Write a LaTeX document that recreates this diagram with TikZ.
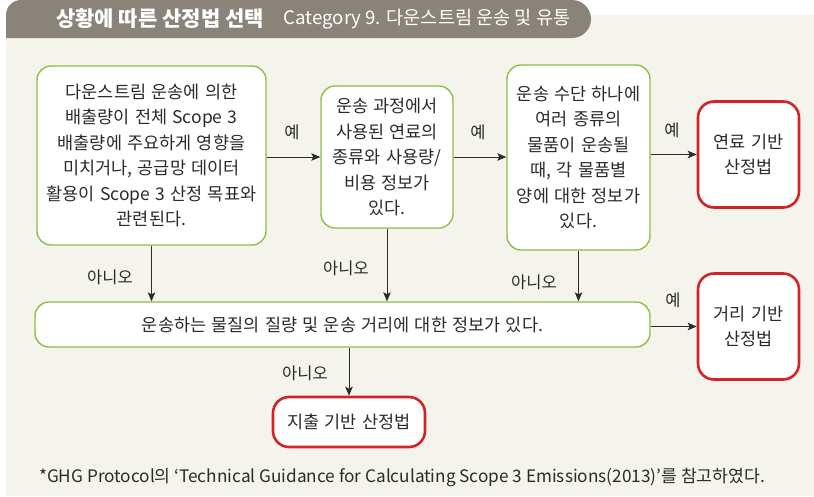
\documentclass[tikz,border=0pt]{standalone}
\usepackage{fontspec}
\setmainfont{Noto Sans CJK KR}
\usetikzlibrary{arrows.meta}
\definecolor{tabgray}{HTML}{8A8379}
\definecolor{panel}{HTML}{F4F3EC}
\definecolor{qgreen}{HTML}{8DBE45}
\definecolor{resred}{HTML}{D2232A}
\definecolor{ink}{HTML}{2B2B2B}
\newcommand{\boxfont}{\fontsize{17.5}{25.5}\selectfont\spaceskip=0.3em\relax}
\tikzset{
  question/.style={draw=qgreen, line width=1.4pt, fill=white, rounded corners=14pt,
    inner sep=0pt, align=center, text=ink, font=\boxfont},
  result/.style={draw=resred, line width=2.6pt, fill=white, rounded corners=16pt,
    inner sep=0pt, align=center, text=ink, font=\boxfont},
  flow/.style={draw=ink, line width=0.9pt, -{Stealth[length=9pt,width=7.5pt,inset=2pt]}},
  answer/.style={text=ink, font=\fontsize{16.5}{19}\selectfont, inner sep=0pt},
}
\begin{document}
\begin{tikzpicture}[x=1pt,y=-1pt]
\useasboundingbox (0,0) rectangle (814,496);
% panel and title tab
\fill[panel] (6,15) rectangle (814,496);
\fill[tabgray] (6,38) -- (6,15) arc[start angle=180,end angle=270,radius=15]
  -- (572,0) arc[start angle=-90,end angle=90,radius=19] -- cycle;
\node[text=white, font=\fontsize{21}{24}\selectfont\bfseries, inner sep=0pt] (title) at (160,19) {상황에 따른 산정법 선택};
\node[text=white, font=\fontsize{18.6}{21}\selectfont, inner sep=0pt] (subtitle) at (427,19) {Category 9. 다운스트림 운송 및 유통};

% questions
\node[question, minimum width=229pt, minimum height=179pt] (qa) at (151.5,155.5)
  {다운스트림 운송에 의한\\배출량이 전체 Scope 3\\배출량에 주요하게 영향을\\미치거나, 공급망 데이터\\활용이 Scope 3 산정 목표와\\관련된다.};
\node[question, minimum width=132pt, minimum height=142pt] (qb) at (387,157)
  {운송 과정에서\\사용된 연료의\\종류와 사용량/\\비용 정보가\\있다.};
\node[question, minimum width=143pt, minimum height=185pt] (qc) at (578.5,157.5)
  {운송 수단 하나에\\여러 종류의\\물품이 운송될\\때, 각 물품별\\양에 대한 정보가\\있다.};
\node[question, minimum width=615pt, minimum height=45pt] (qe) at (342.5,324.5)
  {운송하는 물질의 질량 및 운송 거리에 대한 정보가 있다.};

% results
\node[result, minimum width=101pt, minimum height=106pt] (fuel) at (748.5,154.5) {연료 기반\\산정법};
\node[result, minimum width=101pt, minimum height=106pt] (dist) at (748.5,326.5) {거리 기반\\산정법};
\node[result, minimum width=152pt, minimum height=50pt] (spend) at (349,422) {지출 기반 산정법};

% yes branches
\draw[flow] (qa.east |- qb.west) -- (qb.west);
\draw[flow] (qb.east) -- (qb.east -| qc.west);
\draw[flow] (qc.east |- fuel.west) -- (fuel.west);
\draw[flow] (qe.east |- dist.west) -- (dist.west);
% no branches
\draw[flow] (qa.south) -- (qa.south |- qe.north);
\draw[flow] (qb.south) -- (qb.south |- qe.north);
\draw[flow] (qc.south) -- (qc.south |- qe.north);
\draw[flow] (spend.north |- qe.south) -- (spend.north);

% branch labels
\node[answer] (y1) at (292,132) {예};
\node[answer] (y2) at (478,132) {예};
\node[answer] (y3) at (672,130) {예};
\node[answer] (y4) at (673,300) {예};
\node[answer] (n1) at (110,277) {아니오};
\node[answer] (n2) at (346,268) {아니오};
\node[answer] (n3) at (534,282) {아니오};
\node[answer] (n4) at (305,373) {아니오};

% source note
\node[text=ink, font=\fontsize{17.2}{19}\selectfont, inner sep=0pt] (note) at (402,477)
  {*GHG Protocol의 ‘Technical Guidance for Calculating Scope 3 Emissions(2013)’를 참고하였다.};
\end{tikzpicture}
\end{document}
